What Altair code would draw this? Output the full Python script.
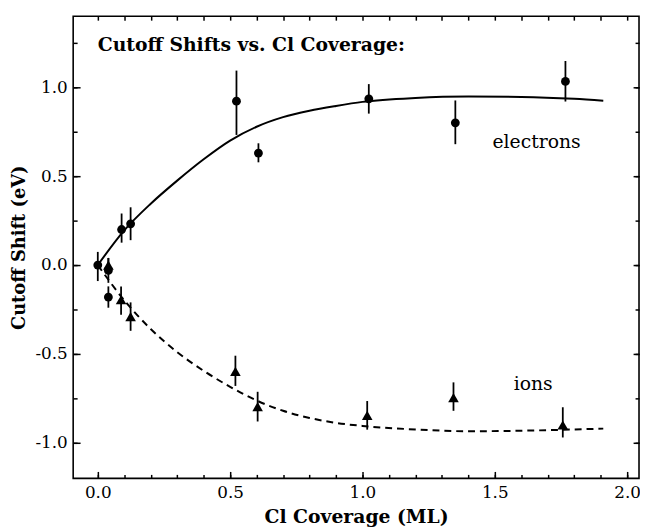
import altair as alt
import pandas as pd

FONT = "DejaVu Serif"

# ---- data ----
# electrons (filled circles) with error bar bounds
e_x = [0.0, 0.04, 0.04, 0.09, 0.124, 0.524, 0.607, 1.024, 1.351, 1.767]
e_y = [0.0, -0.03, -0.18, 0.20, 0.232, 0.922, 0.63, 0.935, 0.80, 1.033]
e_lo = [-0.09, -0.10, -0.24, 0.126, 0.14, 0.732, 0.578, 0.852, 0.68, 0.92]
e_hi = [0.074, 0.04, -0.12, 0.29, 0.325, 1.094, 0.685, 1.018, 0.926, 1.148]

# ions (filled triangles) with error bar bounds
i_x = [0.04, 0.088, 0.124, 0.52, 0.604, 1.018, 1.344, 1.757]
i_y = [0.0, -0.195, -0.29, -0.598, -0.796, -0.846, -0.746, -0.90]
i_lo = [-0.05, -0.28, -0.37, -0.68, -0.88, -0.926, -0.82, -0.97]
i_hi = [0.04, -0.12, -0.21, -0.51, -0.713, -0.765, -0.66, -0.80]

# fitted curves
ce_x = [0.0, 0.1, 0.2, 0.3, 0.4, 0.5, 0.6, 0.7, 0.8, 0.9, 1.0, 1.2, 1.4, 1.6, 1.8, 1.91]
ce_y = [0.0, 0.195, 0.345, 0.475, 0.595, 0.70, 0.778, 0.832, 0.868, 0.895, 0.918,
        0.940, 0.948, 0.946, 0.935, 0.924]
ci_x = [0.0, 0.1, 0.2, 0.3, 0.4, 0.5, 0.6, 0.7, 0.8, 0.9, 1.0, 1.2, 1.4, 1.6, 1.8, 1.91]
ci_y = [0.0, -0.198, -0.36, -0.49, -0.595, -0.685, -0.762, -0.82, -0.86, -0.888, -0.905,
        -0.925, -0.935, -0.932, -0.925, -0.92]

# annotations
ann_text = ["electrons", "ions"]
ann_x = [1.658, 1.645]
ann_y = [0.694, -0.667]
title_text = ["Cutoff Shifts vs. Cl Coverage:"]
title_x = [0.0]
title_y = [1.203]

# axes
x_domain = [-0.093, 2.045]
y_domain = [-1.2, 1.4]
x_major = [0.0, 0.5, 1.0, 1.5, 2.0]
x_minor = [0.0, 0.1, 0.2, 0.3, 0.4, 0.5, 0.6, 0.7, 0.8, 0.9, 1.0,
           1.1, 1.2, 1.3, 1.4, 1.5, 1.6, 1.7, 1.8, 1.9, 2.0]
y_major = [-1.0, -0.5, 0.0, 0.5, 1.0]
y_minor = [-1.0, -0.75, -0.5, -0.25, 0.0, 0.25, 0.5, 0.75, 1.0, 1.25]

xs = alt.Scale(domain=x_domain, nice=False, zero=False)
ys = alt.Scale(domain=y_domain, nice=False, zero=False)

elec = pd.DataFrame({"x": e_x, "y": e_y, "lo": e_lo, "hi": e_hi})
ions = pd.DataFrame({"x": i_x, "y": i_y, "lo": i_lo, "hi": i_hi})
cel = pd.DataFrame({"x": ce_x, "y": ce_y})
cio = pd.DataFrame({"x": ci_x, "y": ci_y})
ann = pd.DataFrame({"x": ann_x, "y": ann_y, "t": ann_text})
ttl = pd.DataFrame({"x": title_x, "y": title_y, "t": title_text})


def X(field="x", axis=None):
    return alt.X(f"{field}:Q", scale=xs, axis=axis)


def Y(field="y", axis=None):
    return alt.Y(f"{field}:Q", scale=ys, axis=axis)


label_expr = "(datum.value < 0 ? '-' : '') + format(abs(datum.value), '.1f')"

x_main_axis = alt.Axis(orient="bottom", values=x_major, labelExpr=label_expr,
                       tickSize=0, domain=False, grid=False, labelPadding=6,
                       title="Cl Coverage (ML)", titlePadding=8)
y_main_axis = alt.Axis(orient="left", values=y_major, labelExpr=label_expr,
                       tickSize=0, domain=False, grid=False, labelPadding=6,
                       title="Cutoff Shift (eV)", titlePadding=6, titleFontSize=18)

e_curve = alt.Chart(cel).mark_line(color="black", strokeWidth=2, interpolate="monotone").encode(
    x=X(axis=x_main_axis), y=Y(axis=y_main_axis))
i_curve = alt.Chart(cio).mark_line(color="black", strokeWidth=2, strokeDash=[7, 5],
                                   interpolate="monotone").encode(x=X(), y=Y())

e_err = alt.Chart(elec).mark_rule(color="black", strokeWidth=1.8).encode(
    x=X(), y=Y("lo"), y2="hi:Q")
i_err = alt.Chart(ions).mark_rule(color="black", strokeWidth=1.8).encode(
    x=X(), y=Y("lo"), y2="hi:Q")
e_pts = alt.Chart(elec).mark_point(shape="circle", filled=True, size=80, color="black",
                                   opacity=1).encode(x=X(), y=Y())
i_pts = alt.Chart(ions).mark_point(shape="triangle-up", filled=True, size=115, color="black",
                                   opacity=1).encode(x=X(), y=Y())

ann_layer = alt.Chart(ann).mark_text(font=FONT, fontSize=19, color="black",
                                     align="center", baseline="middle").encode(
    x=X(), y=Y(), text="t:N")
ttl_layer = alt.Chart(ttl).mark_text(font=FONT, fontSize=19, fontWeight="bold", color="black",
                                     align="left", baseline="alphabetic").encode(
    x=X(), y=Y(), text="t:N")


def tick_layer(channel, orient, values, size):
    ax = alt.Axis(orient=orient, values=values, tickSize=size, offset=-size, labels=False,
                  domain=False, grid=False, title="", tickColor="black", tickWidth=1.5)
    d = pd.DataFrame({"x": [0.0], "y": [0.0]})
    if channel == "x":
        enc = dict(x=X(axis=ax), y=Y())
    else:
        enc = dict(x=X(), y=Y(axis=ax))
    return alt.Chart(d).mark_point(opacity=0).encode(**enc)


ticks = [
    tick_layer("x", "bottom", x_minor, 4),
    tick_layer("x", "bottom", x_major, 7),
    tick_layer("x", "top", x_minor, 4),
    tick_layer("y", "left", y_minor, 4),
    tick_layer("y", "left", y_major, 7),
    tick_layer("y", "right", y_minor, 4),
    tick_layer("y", "right", y_major, 6),
]

chart = alt.layer(
    e_curve, i_curve, e_err, i_err, e_pts, i_pts, ann_layer, ttl_layer, *ticks
).resolve_axis(x="independent", y="independent").properties(
    width=573, height=468,
    autosize=alt.AutoSizeParams(type="none"),
    padding={"left": 66, "top": 5, "right": 1, "bottom": 50},
).configure_view(stroke="black", strokeWidth=1.6).configure_axis(
    labelFont=FONT, labelFontSize=17, labelColor="black",
    titleFont=FONT, titleFontSize=19, titleFontWeight="bold", titleColor="black",
)

chart.save("out.html", embed_options={"renderer": "svg", "actions": False})
